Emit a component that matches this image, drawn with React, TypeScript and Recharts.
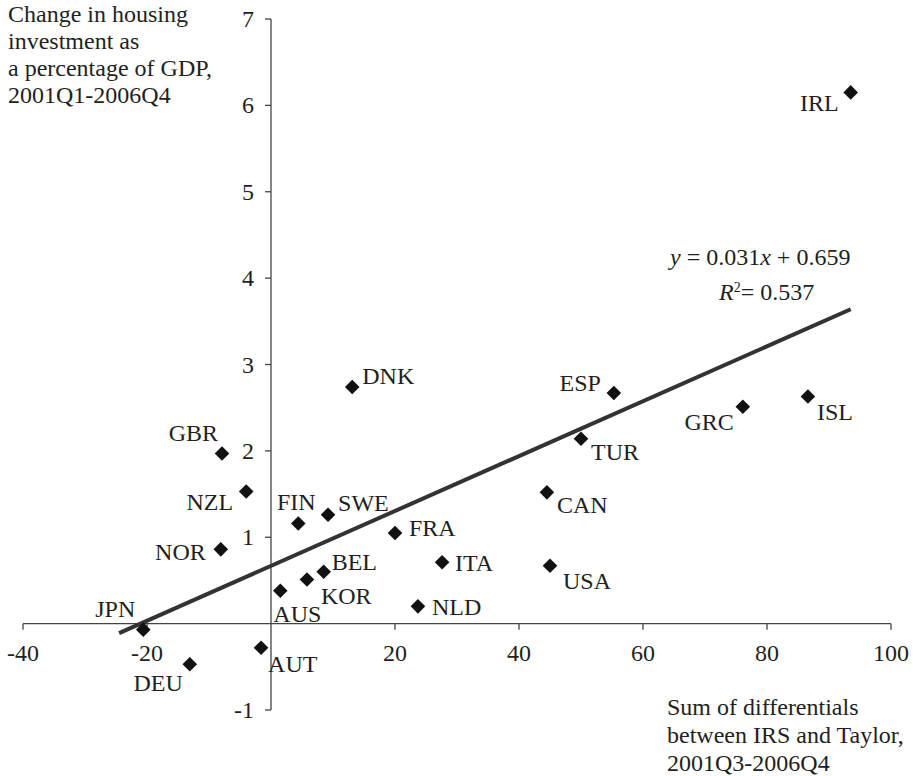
import { ScatterChart, Scatter, XAxis, YAxis, ReferenceLine } from 'recharts';

const countries = ['IRL', 'ISL', 'GRC', 'ESP', 'TUR', 'CAN', 'USA', 'NLD', 'ITA', 'FRA', 'DNK', 'SWE', 'FIN', 'BEL', 'KOR', 'AUS', 'AUT', 'DEU', 'JPN', 'NOR', 'NZL', 'GBR'];
const irsTaylorGap = [93.5, 86.6, 76.1, 55.3, 50.0, 44.5, 45.0, 23.7, 27.6, 20.0, 13.1, 9.2, 4.4, 8.5, 5.8, 1.5, -1.6, -13.1, -20.6, -8.1, -4.0, -7.9];
const housingChange = [6.15, 2.63, 2.51, 2.67, 2.14, 1.52, 0.67, 0.2, 0.71, 1.05, 2.74, 1.26, 1.16, 0.6, 0.51, 0.38, -0.28, -0.47, -0.07, 0.86, 1.53, 1.97];

const xTicks = [-40, -20, 20, 40, 60, 80, 100];
const yTicks = [-1, 1, 2, 3, 4, 5, 6, 7];

// fitted line end points
const trendX = [-24.5, 93.5];
const trendY = [-0.11, 3.64];

// where each country code sits relative to its marker: [dx, dy, anchor]
const labelPlacement: Record<string, [number, number, string]> = {
  IRL: [-12, 11, 'end'],
  ISL: [9, 16, 'start'],
  GRC: [-9, 15, 'end'],
  ESP: [-13, -10, 'end'],
  TUR: [10, 13, 'start'],
  CAN: [10, 13, 'start'],
  USA: [13, 15, 'start'],
  NLD: [14, 1, 'start'],
  ITA: [13, 1, 'start'],
  FRA: [14, -5, 'start'],
  DNK: [10, -11, 'start'],
  SWE: [10, -12, 'start'],
  FIN: [-2, -21, 'middle'],
  BEL: [8, -10, 'start'],
  KOR: [14, 16, 'start'],
  AUS: [-7, 23, 'start'],
  AUT: [7, 16, 'start'],
  DEU: [-7, 19, 'end'],
  JPN: [-8, -21, 'end'],
  NOR: [-15, 3, 'end'],
  NZL: [-13, 11, 'end'],
  GBR: [-4, -20, 'end'],
};

const points = countries.map((c, i) => ({ name: c, x: irsTaylorGap[i], y: housingChange[i] }));
const trend = trendX.map((x, i) => ({ x, y: trendY[i] }));
const xTickPts = xTicks.map((t) => ({ x: t, y: 0 }));
const yTickPts = yTicks.map((t) => ({ x: 0, y: t }));

const FONT = 'Liberation Serif, serif';
const INK = '#231f20';
const AXIS = '#444';

const CountryMark = (props: any) => {
  const { cx, cy, payload } = props;
  const r = 7.3;
  const [dx, dy, anchor] = labelPlacement[payload.name] || [10, 0, 'start'];
  return (
    <g>
      <path d={`M${cx},${cy - r}L${cx + r},${cy}L${cx},${cy + r}L${cx - r},${cy}Z`} fill="#111" />
      <text x={cx + dx} y={cy + dy} textAnchor={anchor} dominantBaseline="central" fontFamily={FONT} fontSize={24} fill={INK}>
        {payload.name}
      </text>
    </g>
  );
};

const XTick = (props: any) => {
  const { cx, cy, payload } = props;
  return (
    <g>
      <line x1={cx} y1={cy} x2={cx} y2={cy + 6} stroke={AXIS} strokeWidth={1.3} />
      <text x={cx} y={cy + 29} textAnchor="middle" dominantBaseline="central" fontFamily={FONT} fontSize={24} fill={INK}>
        {payload.x}
      </text>
    </g>
  );
};

const YTick = (props: any) => {
  const { cx, cy, payload } = props;
  return (
    <g>
      <line x1={cx - 6} y1={cy} x2={cx} y2={cy} stroke={AXIS} strokeWidth={1.3} />
      <text x={cx - 17} y={cy} textAnchor="end" dominantBaseline="central" fontFamily={FONT} fontSize={24} fill={INK}>
        {payload.y}
      </text>
    </g>
  );
};

const textStyle = { position: 'absolute' as const, fontFamily: FONT, fontSize: 24, color: INK, whiteSpace: 'nowrap' as const };

export default function App() {
  return (
    <div style={{ position: 'absolute', left: 0, top: 0, width: 913, height: 776, background: '#fff', fontFamily: FONT }}>
      <ScatterChart
        width={913}
        height={776}
        margin={{ top: 19, right: 22, bottom: 66, left: 23 }}
        style={{ fontFamily: FONT }}
      >
        <XAxis type="number" dataKey="x" domain={[-40, 100]} hide />
        <YAxis type="number" dataKey="y" domain={[-1, 7]} hide />
        <ReferenceLine y={0} stroke={AXIS} strokeWidth={1.3} />
        <ReferenceLine x={0} stroke={AXIS} strokeWidth={1.3} />
        <Scatter data={xTickPts} shape={XTick} isAnimationActive={false} />
        <Scatter data={yTickPts} shape={YTick} isAnimationActive={false} />
        <Scatter
          data={trend}
          line={{ stroke: '#333', strokeWidth: 4 }}
          shape={() => <g />}
          isAnimationActive={false}
        />
        <Scatter data={points} shape={CountryMark} isAnimationActive={false} />
      </ScatterChart>

      <div style={{ ...textStyle, left: 8, top: 1, lineHeight: '27px' }}>
        Change in housing
        <br />
        investment as
        <br />
        a percentage of GDP,
        <br />
        2001Q1-2006Q4
      </div>

      <div style={{ ...textStyle, left: 667, top: 693, lineHeight: '28px' }}>
        Sum of differentials
        <br />
        between IRS and Taylor,
        <br />
        2001Q3-2006Q4
      </div>

      <div style={{ ...textStyle, left: 670, top: 243, lineHeight: '28px' }}>
        <i>y</i> = 0.031<i>x</i> + 0.659
      </div>
      <div style={{ ...textStyle, left: 719, top: 278, lineHeight: '28px' }}>
        <i>R</i>
        <sup style={{ fontSize: 14, verticalAlign: 'top', lineHeight: '20px' }}>2</sup>= 0.537
      </div>
    </div>
  );
}
